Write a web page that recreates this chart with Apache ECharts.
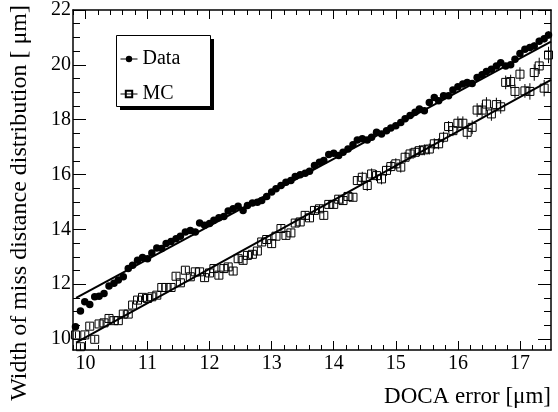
<!DOCTYPE html>
<html>
<head>
<meta charset="utf-8">
<script src="https://cdn.jsdelivr.net/npm/echarts@6/dist/echarts.min.js"></script>
<style>
html, body { margin: 0; padding: 0; background: #fff; }
#chart { width: 558px; height: 412px; }
</style>
</head>
<body>
<div id="chart"></div>
<script>
// DOCA error bin centres [um]
const docaError = [
  9.84, 9.92, 9.99, 10.07, 10.15, 10.22, 10.30, 10.38, 10.46, 10.53,
  10.61, 10.69, 10.76, 10.84, 10.92, 11.00, 11.07, 11.15, 11.23, 11.30,
  11.38, 11.46, 11.53, 11.61, 11.69, 11.77, 11.84, 11.92, 12.00, 12.07,
  12.15, 12.23, 12.30, 12.38, 12.46, 12.54, 12.61, 12.69, 12.77, 12.84,
  12.92, 13.00, 13.07, 13.15, 13.23, 13.31, 13.38, 13.46, 13.54, 13.61,
  13.69, 13.77, 13.84, 13.92, 14.00, 14.08, 14.15, 14.23, 14.31, 14.38,
  14.46, 14.54, 14.61, 14.69, 14.77, 14.85, 14.92, 15.00, 15.08, 15.15,
  15.23, 15.31, 15.38, 15.46, 15.54, 15.62, 15.69, 15.77, 15.85, 15.92,
  16.00, 16.08, 16.15, 16.23, 16.31, 16.39, 16.46, 16.54, 16.62, 16.69,
  16.77, 16.85, 16.92, 17.00, 17.08, 17.16, 17.23, 17.31, 17.39, 17.46
];

// Width of the miss distance distribution, real data [um]
const widthData = [
  10.45, 11.02, 11.36, 11.26, 11.54, 11.56, 11.66, 11.93, 12.03, 12.15,
  12.27, 12.57, 12.69, 12.87, 12.97, 12.93, 13.14, 13.32, 13.30, 13.48,
  13.56, 13.66, 13.75, 13.90, 13.96, 13.90, 14.23, 14.15, 14.21, 14.33,
  14.42, 14.47, 14.67, 14.75, 14.84, 14.69, 14.87, 14.96, 14.99, 15.05,
  15.20, 15.36, 15.48, 15.60, 15.72, 15.78, 15.93, 15.99, 16.05, 16.12,
  16.33, 16.45, 16.51, 16.73, 16.78, 16.69, 16.81, 16.93, 17.09, 17.26,
  17.30, 17.26, 17.36, 17.54, 17.48, 17.60, 17.70, 17.78, 17.90, 18.03,
  18.15, 18.27, 18.39, 18.33, 18.63, 18.81, 18.69, 18.87, 18.87, 19.08,
  19.20, 19.30, 19.36, 19.32, 19.54, 19.64, 19.76, 19.84, 19.96, 20.08,
  19.96, 20.00, 20.20, 20.41, 20.57, 20.63, 20.69, 20.86, 20.95, 21.09
];
const widthDataErr = [
  0.05, 0.05, 0.05, 0.05, 0.05, 0.05, 0.05, 0.05, 0.05, 0.05,
  0.05, 0.05, 0.05, 0.05, 0.05, 0.05, 0.05, 0.05, 0.05, 0.05,
  0.05, 0.05, 0.05, 0.05, 0.05, 0.05, 0.05, 0.05, 0.05, 0.05,
  0.06, 0.06, 0.06, 0.06, 0.06, 0.06, 0.06, 0.06, 0.06, 0.06,
  0.06, 0.06, 0.06, 0.06, 0.06, 0.06, 0.06, 0.06, 0.06, 0.06,
  0.06, 0.06, 0.06, 0.06, 0.06, 0.06, 0.06, 0.06, 0.06, 0.06,
  0.08, 0.08, 0.08, 0.08, 0.08, 0.08, 0.08, 0.08, 0.08, 0.08,
  0.08, 0.08, 0.08, 0.08, 0.08, 0.08, 0.08, 0.08, 0.08, 0.08,
  0.10, 0.10, 0.10, 0.10, 0.10, 0.10, 0.10, 0.10, 0.10, 0.10,
  0.10, 0.10, 0.10, 0.10, 0.10, 0.13, 0.13, 0.13, 0.13, 0.13
];

// Width of the miss distance distribution, simulation [um]
const widthMC = [
  10.15, 9.72, 10.15, 10.47, 9.99, 10.55, 10.59, 10.75, 10.67, 10.67,
  10.91, 10.91, 11.24, 11.42, 11.52, 11.48, 11.54, 11.60, 11.88, 11.88,
  11.88, 12.29, 12.05, 12.51, 12.27, 12.45, 12.45, 12.24, 12.41, 12.57,
  12.33, 12.57, 12.63, 12.48, 12.93, 12.87, 13.05, 13.09, 13.21, 13.54,
  13.63, 13.48, 13.75, 14.03, 13.78, 13.87, 14.23, 14.27, 14.51, 14.42,
  14.69, 14.75, 14.51, 14.91, 14.91, 15.10, 15.05, 15.20, 15.17, 15.78,
  15.90, 15.60, 16.02, 15.96, 15.84, 16.15, 16.29, 16.39, 16.27, 16.63,
  16.75, 16.81, 16.87, 16.90, 16.93, 17.12, 17.12, 17.36, 17.75, 17.60,
  17.87, 17.87, 17.54, 17.72, 18.35, 18.35, 18.57, 18.21, 18.55, 18.47,
  19.36, 19.39, 19.03, 19.66, 19.05, 19.03, 19.72, 19.96, 19.15, 20.36
];
const widthMCErr = [
  0.12, 0.12, 0.12, 0.12, 0.12, 0.12, 0.12, 0.12, 0.12, 0.12,
  0.12, 0.12, 0.12, 0.12, 0.12, 0.12, 0.12, 0.12, 0.12, 0.12,
  0.12, 0.12, 0.12, 0.12, 0.12, 0.12, 0.12, 0.12, 0.12, 0.12,
  0.15, 0.15, 0.15, 0.15, 0.15, 0.15, 0.15, 0.15, 0.15, 0.15,
  0.15, 0.15, 0.15, 0.15, 0.15, 0.15, 0.15, 0.15, 0.15, 0.15,
  0.15, 0.15, 0.15, 0.15, 0.15, 0.15, 0.15, 0.15, 0.15, 0.15,
  0.20, 0.20, 0.20, 0.20, 0.20, 0.20, 0.20, 0.20, 0.20, 0.20,
  0.20, 0.20, 0.20, 0.20, 0.20, 0.20, 0.20, 0.20, 0.20, 0.20,
  0.25, 0.25, 0.25, 0.25, 0.25, 0.25, 0.25, 0.25, 0.25, 0.25,
  0.25, 0.25, 0.25, 0.25, 0.25, 0.30, 0.30, 0.30, 0.30, 0.30
];

// Straight-line fits (end points)
const fitData = [[9.85, 11.50], [17.5, 20.85]];
const fitMC = [[9.85, 9.87], [17.5, 19.45]];

// Tick positions
const xMajorTicks = [10, 11, 12, 13, 14, 15, 16, 17];
const xMinorTicks = [
  9.8, 10.0, 10.2, 10.4, 10.6, 10.8, 11.0, 11.2, 11.4, 11.6, 11.8,
  12.0, 12.2, 12.4, 12.6, 12.8, 13.0, 13.2, 13.4, 13.6, 13.8,
  14.0, 14.2, 14.4, 14.6, 14.8, 15.0, 15.2, 15.4, 15.6, 15.8,
  16.0, 16.2, 16.4, 16.6, 16.8, 17.0, 17.2, 17.4
];
const yMajorTicks = [10, 12, 14, 16, 18, 20, 22];
const yMinorTicks = [
  10, 10.5, 11, 11.5, 12, 12.5, 13, 13.5, 14, 14.5, 15, 15.5,
  16, 16.5, 17, 17.5, 18, 18.5, 19, 19.5, 20, 20.5, 21, 21.5, 22
];

const X_RANGE = [9.8, 17.5];
const Y_RANGE = [9.6, 22];
const FONT = 'Liberation Serif, Times New Roman, serif';

function makeAxis(kind, position, range, ticks, tickLen, labelTicks, drawLine) {
  return {
    type: 'value',
    position: position,
    min: range[0],
    max: range[1],
    axisLine: { show: drawLine, onZero: false, lineStyle: { color: '#000', width: 1.5 } },
    axisTick: { show: true, inside: true, length: tickLen, customValues: ticks,
                lineStyle: { color: '#000', width: 1 } },
    axisLabel: labelTicks ? {
      show: true, customValues: labelTicks, color: '#000',
      fontFamily: FONT, fontSize: 20,
      margin: kind === 'x' ? 4 : 2
    } : { show: false },
    splitLine: { show: false },
    minorTick: { show: false },
    axisPointer: { show: false }
  };
}

function errorBars(values, errs) {
  return docaError.map((x, i) => [x, values[i] - errs[i], values[i] + errs[i]]);
}

function renderErrorBar(params, api) {
  const lo = api.coord([api.value(0), api.value(1)]);
  const hi = api.coord([api.value(0), api.value(2)]);
  return {
    type: 'line',
    shape: { x1: lo[0], y1: lo[1], x2: hi[0], y2: hi[1] },
    style: { stroke: '#000', lineWidth: 1 }
  };
}

const chart = echarts.init(document.getElementById('chart'), null, { renderer: 'canvas' });

chart.setOption({
  animation: false,
  backgroundColor: '#fff',
  grid: { left: 73, right: 7, top: 9, bottom: 62, containLabel: false },
  xAxis: [
    makeAxis('x', 'bottom', X_RANGE, xMinorTicks, 5, null, true),
    makeAxis('x', 'bottom', X_RANGE, xMajorTicks, 9, xMajorTicks, false),
    makeAxis('x', 'top', X_RANGE, xMinorTicks, 5, null, true),
    makeAxis('x', 'top', X_RANGE, xMajorTicks, 9, null, false)
  ],
  yAxis: [
    makeAxis('y', 'left', Y_RANGE, yMinorTicks, 7, null, true),
    makeAxis('y', 'left', Y_RANGE, yMajorTicks, 13, yMajorTicks, false),
    makeAxis('y', 'right', Y_RANGE, yMinorTicks, 7, null, true),
    makeAxis('y', 'right', Y_RANGE, yMajorTicks, 13, null, false)
  ],
  legend: {
    orient: 'vertical',
    left: 116,
    top: 35,
    z: 20,
    padding: [14, 0, 0, 4],
    itemGap: 15,
    itemWidth: 17,
    itemHeight: 8,
    textStyle: { fontFamily: FONT, fontSize: 20, color: '#000' },
    lineStyle: { color: '#000', width: 1, opacity: 1 },
    data: ['Data', 'MC']
  },
  graphic: [
    // legend frame with drop shadow
    { type: 'rect', z: 10, shape: { x: 120, y: 39, width: 94, height: 71 },
      style: { fill: '#000' } },
    { type: 'rect', z: 11, shape: { x: 116.5, y: 35.5, width: 94, height: 71 },
      style: { fill: '#fff', stroke: '#000', lineWidth: 1 } },
    {
      type: 'text', x: 551, y: 397,
      style: { text: 'DOCA error [μm]', fill: '#000', font: '23px ' + FONT,
               align: 'right', verticalAlign: 'middle' }
    },
    {
      type: 'text', x: 20, y: 5, rotation: Math.PI / 2,
      style: { text: 'Width of miss distance distribution [ μm]', fill: '#000',
               font: '24px ' + FONT, align: 'right', verticalAlign: 'middle' }
    }
  ],
  series: [
    {
      name: 'Data err', type: 'custom', xAxisIndex: 0, yAxisIndex: 0,
      data: errorBars(widthData, widthDataErr), renderItem: renderErrorBar,
      clip: true, silent: true, z: 2
    },
    {
      name: 'MC err', type: 'custom', xAxisIndex: 0, yAxisIndex: 0,
      data: errorBars(widthMC, widthMCErr), renderItem: renderErrorBar,
      clip: true, silent: true, z: 2
    },
    {
      name: 'Data', type: 'line', xAxisIndex: 0, yAxisIndex: 0,
      data: docaError.map((x, i) => [x, widthData[i]]),
      symbol: 'circle', symbolSize: 7.5, showSymbol: true, showAllSymbol: true,
      lineStyle: { width: 0, opacity: 0 },
      itemStyle: { color: '#000' },
      clip: true, z: 3
    },
    {
      name: 'MC', type: 'line', xAxisIndex: 0, yAxisIndex: 0,
      data: docaError.map((x, i) => [x, widthMC[i]]),
      symbol: 'rect', symbolSize: 8, showSymbol: true, showAllSymbol: true,
      lineStyle: { width: 0, opacity: 0 },
      itemStyle: { color: 'rgba(255,255,255,0)', borderColor: '#000', borderWidth: 1 },
      clip: true, z: 3
    },
    {
      name: 'Data fit', type: 'line', xAxisIndex: 0, yAxisIndex: 0,
      data: fitData, symbol: 'none', lineStyle: { color: '#000', width: 2 },
      clip: true, silent: true, z: 4
    },
    {
      name: 'MC fit', type: 'line', xAxisIndex: 0, yAxisIndex: 0,
      data: fitMC, symbol: 'none', lineStyle: { color: '#000', width: 2 },
      clip: true, silent: true, z: 4
    }
  ]
});
</script>
</body>
</html>
